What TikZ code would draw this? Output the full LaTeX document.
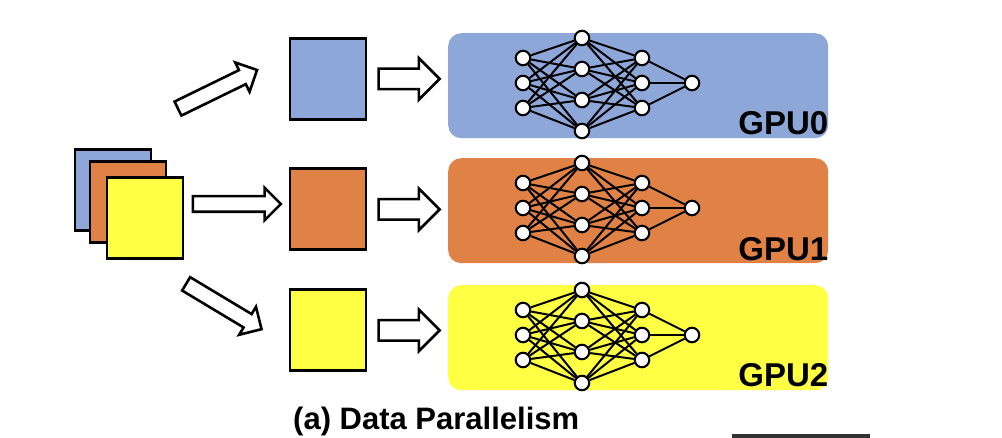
\documentclass[tikz,border=0pt]{standalone}
\usepackage{fontspec}
\setmainfont{Liberation Sans}
\usetikzlibrary{shapes.arrows,positioning}

\definecolor{gpublue}{HTML}{8EA7D9}
\definecolor{gpuorange}{HTML}{E08246}
\definecolor{gpuyellow}{HTML}{FFFF44}
\definecolor{bargray}{HTML}{333333}

\tikzset{
  batch/.style={draw, line width=2.8pt, minimum width=76pt, minimum height=81pt, inner sep=0pt, anchor=north west},
  gpubox/.style={rounded corners=13pt, minimum width=380pt, minimum height=105pt, inner sep=0pt, anchor=north west},
  unit/.style={circle, draw, fill=white, line width=2.1pt, minimum size=14.5pt, inner sep=0pt},
  link/.style={line width=2pt},
  bigarrow/.style={single arrow, draw, fill=white, line width=2.6pt, inner xsep=0pt, inner ysep=9pt, single arrow head extend=10.5pt, minimum height=61pt},
  smallarrow/.style={single arrow, draw, fill=white, line width=2.6pt, inner xsep=0pt, inner ysep=6.5pt, single arrow head extend=8.5pt, minimum height=88pt},
  gpulabel/.style={font=\fontsize{33}{36}\selectfont\bfseries, anchor=base east, inner sep=0pt},
}

\begin{document}
\begin{tikzpicture}[x=1pt, y=-1pt]
  \newcommand{\NeuralNet}[2]{% #1 = gpu box, #2 = prefix
    \foreach \i in {1,2,3} {
      \node[unit] (#2a\i) at ([xshift=75pt, yshift=-25pt*\i]#1.north west) {};
      \node[unit] (#2c\i) at ([xshift=194pt, yshift=-25pt*\i]#1.north west) {};
    }
    \foreach \j in {1,...,4}
      \node[unit] (#2b\j) at ([xshift=134pt, yshift={-5pt-31pt*(\j-1)}]#1.north west) {};
    \node[unit] (#2o) at ([xshift=244pt, yshift=-50pt]#1.north west) {};
    \foreach \i in {1,2,3} \foreach \j in {1,...,4} \draw[link] (#2a\i) -- (#2b\j);
    \foreach \j in {1,...,4} \foreach \k in {1,2,3} \draw[link] (#2b\j) -- (#2c\k);
    \foreach \k in {1,2,3} \draw[link] (#2c\k) -- (#2o);
  }
  \fill[white] (0,0) rectangle (1002,438);
  \useasboundingbox (0,0) rectangle (1002,438);

  % input batch
  \node[batch, fill=gpublue] (s0) at (73.5,148.5) {};
  \node[batch, fill=gpuorange] (s1) at (88.5,160.5) {};
  \node[batch, fill=gpuyellow] (s2) at (105.5,176.5) {};

  % split arrows
  \node[smallarrow, rotate=26] (m0) at (214,91) {};
  \node[smallarrow] (m1) at (233,204) {};
  \node[smallarrow, rotate=-31] (m2) at (220.5,304.5) {};

  % mini batches
  \node[batch, fill=gpublue] (d0) at (288.5,37) {};
  \node[batch, fill=gpuorange] (d1) at (288.5,167.5) {};
  \node[batch, fill=gpuyellow] (d2) at (288.5,288.5) {};

  % gpus
  \node[gpubox, fill=gpublue] (g0) at (448,33) {};
  \node[gpubox, fill=gpuorange] (g1) at (448,158) {};
  \node[gpubox, fill=gpuyellow] (g2) at (448,285) {};

  \node[bigarrow, right=10pt of d0] (r0) {};
  \node[bigarrow, right=10pt of d1] (r1) {};
  \node[bigarrow, right=10pt of d2] (r2) {};

  \NeuralNet{g0}{p}
  \NeuralNet{g1}{q}
  \NeuralNet{g2}{r}

  \node[gpulabel] (l0) at ([yshift=4pt]g0.south east) {GPU0};
  \node[gpulabel] (l1) at ([yshift=3pt]g1.south east) {GPU1};
  \node[gpulabel] (l2) at ([yshift=4pt]g2.south east) {GPU2};

  \node[font=\fontsize{31}{36}\selectfont\bfseries, anchor=base west, inner sep=0pt] (cap) at (293,429) {(a) Data Parallelism};

  \fill[bargray] (732,434) rectangle (870,438);
\end{tikzpicture}
\end{document}
